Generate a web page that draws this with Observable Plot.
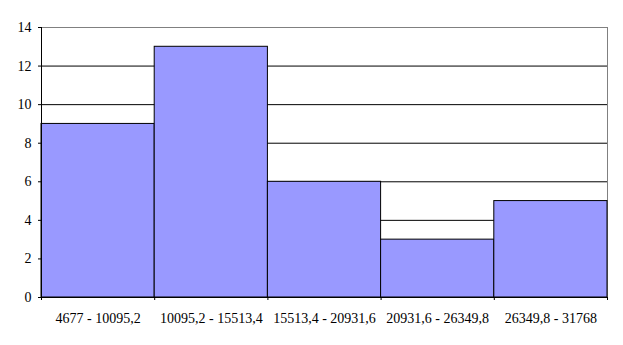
<!DOCTYPE html>
<html><head><meta charset="utf-8">
<script src="https://cdn.jsdelivr.net/npm/d3@7"></script>
<script src="https://cdn.jsdelivr.net/npm/@observablehq/plot@0.6"></script>
<style>body{margin:0;background:#fff}</style>
</head><body><div id="chart"></div>
<script>
const categories = ["4677 - 10095,2", "10095,2 - 15513,4", "15513,4 - 20931,6", "20931,6 - 26349,8", "26349,8 - 31768"];
const counts = [9, 13, 6, 3, 5];
const yTicks = [0, 2, 4, 6, 8, 10, 12, 14];
const yMax = 14;

const data = categories.map((c, i) => ({label: c, count: counts[i], i}));
const edges = d3.range(categories.length + 1);

const plot = Plot.plot({
  width: 623, height: 345,
  marginLeft: 41, marginRight: 16, marginTop: 27, marginBottom: 48,
  style: {fontFamily: "'Liberation Serif', 'Times New Roman', serif", fontSize: "14px", color: "black", background: "white"},
  x: {domain: [0, categories.length], label: null},
  y: {domain: [0, yMax], label: null},
  marks: [
    Plot.ruleY(yTicks.filter(t => t > 0 && t < yMax), {stroke: "black", strokeOpacity: 1}),
    Plot.ruleY([yMax], {stroke: "#808080"}),
    Plot.ruleX([categories.length], {stroke: "#808080"}),
    Plot.rectY(data, {x1: "i", x2: d => d.i + 1, y1: 0, y2: "count", fill: "#9999FF", stroke: "black", strokeWidth: 1}),
    Plot.ruleX([0], {stroke: "black"}),
    Plot.ruleY([0], {stroke: "black"}),
    Plot.axisY({ticks: yTicks, tickSize: 3, tickPadding: 7, stroke: "black", fill: "black", fontSize: 14, label: null}),
    Plot.axisX({ticks: edges, tickSize: 3, tickFormat: () => "", stroke: "black", label: null}),
    Plot.text(data, {x: d => d.i + 0.5, y: 0, text: "label", dy: 21, fill: "black", fontSize: 14})
  ]
});
document.getElementById("chart").appendChild(plot);
</script>
</body></html>
